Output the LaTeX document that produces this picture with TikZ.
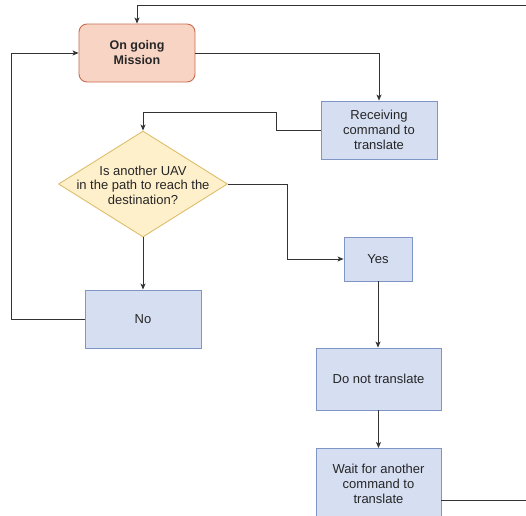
\documentclass[tikz,border=0pt]{standalone}
\usepackage{fontspec}
\setmainfont{Liberation Sans}
\usetikzlibrary{shapes.geometric,arrows.meta}
\definecolor{bfill}{HTML}{D6DEF2}
\definecolor{bline}{HTML}{7F95C6}
\definecolor{yfill}{HTML}{FFF0CC}
\definecolor{yline}{HTML}{DDBE6A}
\definecolor{rfill}{HTML}{F8D4C4}
\definecolor{rline}{HTML}{C86C50}
\definecolor{conn}{HTML}{333333}
\tikzset{
  txt/.style={align=center,font=\fontsize{13}{15}\selectfont,text=black!85},
  blk/.style={txt,draw=bline,fill=bfill,line width=0.9pt,inner sep=0pt},
  conn/.style={draw=conn,line width=0.9pt,-{Stealth[length=6pt,width=5pt,inset=1.5pt]}},
}
\begin{document}
\begin{tikzpicture}[x=1pt,y=-1pt]
\useasboundingbox (0,0) rectangle (526,515);
\node[blk,draw=rline,fill=rfill,rounded corners=8pt,minimum width=116pt,minimum height=58pt,font=\bfseries\fontsize{12.5}{15}\selectfont] (mission) at (137,53) {On going\\Mission};
\node[blk,minimum width=116pt,minimum height=58pt] (recv) at (379,130) {Receiving\\command to\\translate};
\node[blk,draw=yline,fill=yfill,diamond,aspect=1.6,minimum width=169pt,minimum height=106pt] (dia) at (143,184) {};
\node[txt,font=\fontsize{13}{14.5}\selectfont] (diatext) at (143,185) {Is another UAV\\in the path to reach the\\destination?};
\node[blk,minimum width=68pt,minimum height=44pt] (yes) at (378,259) {Yes};
\node[blk,minimum width=116pt,minimum height=58pt] (no) at (143,319) {No};
\node[blk,minimum width=125pt,minimum height=62pt] (dont) at (378.5,379) {Do not translate};
\node[blk,minimum width=125pt,minimum height=72pt,anchor=north] (wait) at (378.5,448) {};
\node[txt] (waittext) at (378.5,484) {Wait for another\\command to\\translate};
\coordinate (wr) at (530,500);
\coordinate (tr) at (530,5);
\coordinate (rb) at (276,112);
\coordinate (yb) at (287,184);
\coordinate (nb) at (11,319);
\draw[conn] (wait.east |- wr) -- (wr) -- (tr) -- (mission.north |- tr) -- (mission.north);
\draw[conn] (mission.east) -| (recv.north);
\draw[conn] (recv.west) -| (rb) -| (dia.north);
\draw[conn] (dia.east) -- (yb) |- (yes.west);
\draw[conn] (dia.south) -- (no.north);
\draw[conn] (no.west) -- (nb) |- (mission.west);
\draw[conn] (yes.south) -- (yes.south |- dont.north);
\draw[conn] (dont.south) -- (wait.north);
\end{tikzpicture}
\end{document}
